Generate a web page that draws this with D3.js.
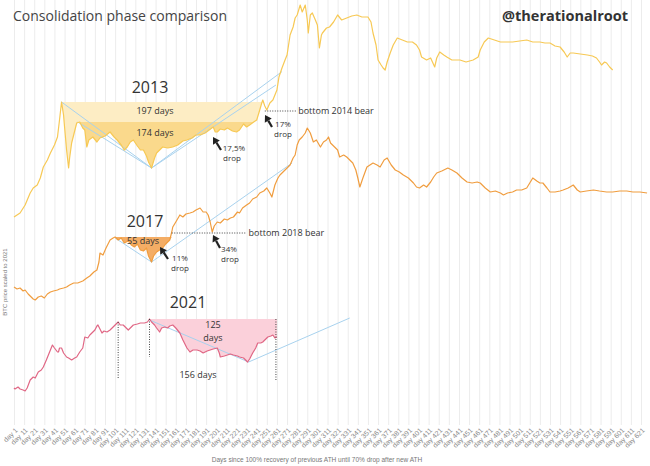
<!DOCTYPE html>
<html><head><meta charset="utf-8">
<script src="https://cdn.jsdelivr.net/npm/d3@7"></script>
<style>body{margin:0;background:#fff} svg{display:block}</style>
</head><body><svg id="c" width="650" height="466"></svg>
<script>
// ---------- DATA ----------
const tickDays = d3.range(1, 622, 10);

// [day, scaled price]
const btc2013 = [[1,50.75],[7,51.75],[12,53.75],[17,56.75],[20,58],[24,58.75],[27,60.5],[30,63.25],[34,65],[37,66.75],[41,68.75],[44,70.75],[46,75],[48,79.5],[50,76.25],[51,73.25],[53,67.5],[55,63],[56,65.5],[58,69.25],[60,71.25],[63,74.25],[66,74.5],[69,73],[71,72.5],[73,68.25],[75,70],[79,70.75],[83,69.5],[86,70.5],[91,71],[96,72],[100,70.75],[103,70],[107,68.75],[110,67.5],[113,68.25],[116,69.5],[119,70],[123,68.5],[126,67.5],[129,67.5],[132,66],[134,64.5],[137,63],[140,65.5],[142,66.75],[145,67.5],[148,68.25],[153,68],[158,68.25],[163,68.75],[168,69.75],[172,70],[177,70.5],[181,71.25],[185,71.25],[190,71.75],[194,72.5],[198,73.25],[200,72],[202,72],[205,72.75],[209,72.5],[212,73],[217,72.25],[221,72],[224,72.5],[228,74],[231,73.25],[234,73.75],[238,74.5],[241,75],[244,77.5],[246,79.25],[247,80],[249,78.5],[251,77.5],[254,79.25],[257,80],[261,82.5],[263,85.75],[266,88],[269,90],[271,91.25],[274,96.25],[277,98.25],[279,100.5],[281,101.25],[284,103.75],[286,102],[289,103.75],[291,100],[292,96.75],[294,101.25],[296,101.75],[299,100],[301,98.75],[303,93],[305,96.25],[306,96.75],[310,98],[313,98.25],[317,99.5],[321,101.25],[325,100],[330,100.5],[335,101],[340,101.25],[345,100.75],[351,100.75],[354,99.5],[356,96.75],[359,93.75],[361,90],[364,88.75],[366,88],[368,87.5],[370,89.5],[373,91.75],[376,93.75],[380,95.5],[385,95],[390,94.5],[395,94.5],[399,93.75],[402,92.5],[404,90.75],[409,90],[413,90.5],[417,88.25],[419,90.5],[422,92],[426,91.25],[429,90.75],[434,90],[442,90],[448,89.5],[455,90],[460,90.75],[462,92.5],[466,94.5],[470,95.5],[476,95],[482,94.5],[487,94.5],[494,94.5],[501,94.75],[508,95],[514,94.5],[521,94.5],[526,94.25],[531,94.25],[536,93.5],[541,93.25],[545,92],[548,90.75],[551,91.75],[554,91.75],[561,91.5],[568,91.25],[573,91],[577,90.5],[580,89.5],[582,88.75],[585,89.5],[587,89.25],[590,88.25],[593,87.5]];

const btc2017 = [[1,33.25],[4,32.75],[7,33],[10,32.25],[12,32.5],[15,31.5],[17,31],[20,30.25],[22,30],[25,30.75],[28,31],[31,30.5],[34,31.5],[37,32],[40,32.25],[44,32.5],[46,32.75],[50,33],[53,33.25],[56,33.75],[60,34.25],[64,34.25],[69,34.75],[73,35.5],[76,36],[80,37],[83,37.5],[85,39.5],[86,41.75],[89,41.25],[92,43],[96,45],[99,45.5],[101,45.75],[104,45],[107,45.5],[110,44.25],[114,44.75],[117,43.75],[120,43.25],[123,44],[126,42.5],[129,42.25],[132,43],[134,41],[137,39.5],[139,41],[142,42],[145,42.5],[148,43],[151,44],[155,45],[157,47],[158,48.25],[161,49.5],[165,51.25],[168,50.75],[171,51.5],[175,51.75],[178,52],[181,52.5],[185,53],[188,52],[191,52],[193,51.25],[195,49.5],[197,47],[199,48.5],[202,49.5],[205,49.25],[209,50.25],[212,50],[215,50.5],[218,50.75],[222,52],[224,51.75],[227,53],[231,53.75],[234,54.25],[237,55.25],[241,55.75],[244,56.75],[248,57.25],[251,58],[254,56.75],[256,55.75],[259,58.75],[262,60.5],[264,61.25],[267,62],[271,63],[274,63.75],[277,65.5],[279,66.25],[281,68.75],[283,70],[286,70.75],[289,71.75],[291,73],[294,71.75],[297,69.5],[300,70],[304,68.25],[307,69.5],[310,70],[312,70.75],[314,69.25],[318,68.25],[321,67.5],[323,65.75],[327,66.25],[330,65.75],[333,65],[336,64.25],[339,62.5],[341,60.5],[343,58.25],[346,60.5],[350,63.25],[353,63.75],[356,64.25],[360,63.75],[363,63.25],[367,65],[370,65.5],[374,63.75],[378,62.5],[382,62],[386,61.25],[391,60.5],[396,59.25],[399,58.25],[402,58],[406,58.75],[409,58.25],[413,59.5],[416,60.75],[419,61.75],[424,62.25],[430,63],[434,62.5],[439,61.75],[444,60.5],[449,59.5],[454,59.25],[459,59.5],[462,59.25],[467,58],[472,57],[477,57.25],[482,56.75],[485,56.25],[489,56.75],[494,57],[498,57.5],[503,57.5],[508,58],[511,59.25],[514,60.5],[518,59.75],[521,59.25],[524,59.25],[528,58],[531,57],[536,57],[541,57.25],[544,57.5],[549,58],[554,58.75],[558,57.5],[561,57],[567,57.25],[574,57.5],[580,57.25],[587,57],[593,57],[600,57.25],[607,57.25],[613,57],[620,57],[627,56.75]];

const btc2021 = [[1,8],[2,7.75],[5,8.25],[7,7.75],[10,7.5],[12,7.25],[14,8],[17,10],[20,10.75],[22,10.5],[25,12],[28,12.5],[30,13.25],[33,15],[35,16.25],[37,17.5],[39,18.75],[41,18],[44,17],[45,17],[46,18],[48,18],[50,16.75],[53,15.75],[55,15.5],[58,15],[61,15.5],[63,15.75],[66,17],[69,18],[71,20.75],[74,20.5],[76,21.25],[78,21.75],[81,22.5],[83,23.5],[84,23.75],[86,22.75],[88,21.75],[90,22.25],[93,22],[96,22.5],[99,23.25],[102,24],[104,24.5],[106,23.75],[109,23.75],[112,23],[114,22.5],[117,23.25],[119,23.75],[123,24],[126,24.25],[130,24.25],[133,24.5],[135,25.25],[137,24.5],[140,23.75],[142,23],[145,22],[147,23],[150,23.25],[153,23],[155,23.5],[158,23.75],[161,23],[165,21.75],[168,20],[171,18.5],[172,18],[175,17],[178,17.5],[182,17.5],[185,17.25],[188,16.75],[192,17.25],[195,17.5],[198,17.75],[202,18],[204,16.75],[205,15.75],[209,16],[212,16.25],[215,16.5],[218,16.25],[222,16],[224,15.75],[228,15.5],[230,15],[232,14.5],[234,15.25],[237,16.75],[240,18],[242,19.25],[245,19.25],[247,19.5],[250,20.25],[252,20.75],[255,21],[257,21.25],[259,20.5],[261,20.75]];

// consolidation phases: [first day, last day, level]
const phase2013Outer = [48, 247, 79.5];
const phase2013Inner = [63, 238, 74.5];
const phase2017 = [101, 157, 45.75];
const phase2021 = [135, 261, 25.25];

// trend lines (light blue)
const trend2013a = [[48,79.5],[137,63],[266,87.1]];
const trend2013b = [[64,74.5],[137,63],[260,83.75]];
const trend2017 = [[101,45.5],[137,39.5],[276,64.25]];
const trend2021 = [[135,25],[233,14.5],[333,25.5]];

// bear-market bottoms: [from day, to day, level, label]
const bottom2014 = [249, 280, 77.25, "bottom 2014 bear"];
const bottom2018 = [157, 231, 46.75, "bottom 2018 bear"];

// 2021 markers: [day, top value, bottom value]
const markers2021 = [[104, 24.5, 10.5], [135, 25.25, 15.75], [260, 25.25, 10]];

// ---------- CHART ----------
const svg = d3.select("#c");
const FONT = "'Open Sans', 'Noto Sans', sans-serif";
const x = d3.scaleLinear().domain([1, 621]).range([14, 641]);
const y = d3.scaleLinear().domain([0, 105]).range([420, 0]);

// grid + ticks
const ax = svg.append("g").attr("transform", "translate(0,425)")
  .call(d3.axisBottom(x).tickValues(tickDays).tickSize(-425).tickFormat(d => "day " + d));
ax.select(".domain").remove();
ax.selectAll(".tick line").attr("stroke", "#ececec").attr("stroke-width", 1);
ax.selectAll(".tick text")
  .attr("font-family", "'Liberation Sans', Arial, sans-serif").attr("font-size", 7)
  .attr("fill", "#8a8a8a").attr("text-anchor", "end")
  .attr("x", 0).attr("y", 0).attr("dy", "0.35em")
  .attr("transform", "translate(2,4) rotate(-45)");

const line = d3.line().x(d => x(d[0])).y(d => y(d[1]));
function fillArea(data, ph, color) {
  const pts = data.filter(d => d[0] >= ph[0] && d[0] <= ph[1]);
  const area = d3.area().x(d => x(d[0])).y0(y(ph[2])).y1(d => y(Math.min(d[1], ph[2])));
  svg.append("path").datum(pts).attr("d", area).attr("fill", color);
}
fillArea(btc2013, phase2013Outer, "#fdedc4");
fillArea(btc2013, phase2013Inner, "#fad98c");
fillArea(btc2017, phase2017, "#f4ad65");
fillArea(btc2021, phase2021, "#fbd0da");

// trend lines
[trend2013a, trend2013b, trend2017, trend2021].forEach(t => {
  svg.append("path").datum(t).attr("d", line).attr("fill", "none")
    .attr("stroke", "#a8d2ee").attr("stroke-width", 1);
});

// series
[[btc2013, "#f7c955"], [btc2017, "#f09d3f"], [btc2021, "#e06785"]].forEach(([s, c]) => {
  svg.append("path").datum(s).attr("d", line).attr("fill", "none")
    .attr("stroke", c).attr("stroke-width", 1.2).attr("stroke-linejoin", "round");
});

// dotted bottoms
[bottom2014, bottom2018].forEach(b => {
  svg.append("line").attr("x1", x(b[0])).attr("x2", x(b[1])).attr("y1", y(b[2])).attr("y2", y(b[2]))
    .attr("stroke", "#444").attr("stroke-width", 1).attr("stroke-dasharray", "1,1.5");
  svg.append("text").attr("x", x(b[1]) + 2).attr("y", y(b[2]) + 3.2)
    .attr("font-family", FONT).attr("font-size", 9).attr("fill", "#333").text(b[3]);
});
markers2021.forEach(m => {
  svg.append("line").attr("x1", x(m[0])).attr("x2", x(m[0])).attr("y1", y(m[1])).attr("y2", y(m[2]))
    .attr("stroke", "#444").attr("stroke-width", 1).attr("stroke-dasharray", "1,1.5");
});

// texts
function txt(t, px, py, size, opts = {}) {
  svg.append("text").attr("x", px).attr("y", py).attr("font-family", FONT)
    .attr("font-size", size).attr("fill", opts.fill || "#333")
    .attr("font-weight", opts.weight || "normal")
    .attr("text-anchor", opts.anchor || "middle").text(t);
}
txt("Consolidation phase comparison", 13, 21, 14, {anchor: "start", fill: "#444"});
txt("@therationalroot", 628, 21, 14.5, {anchor: "end", weight: "bold", fill: "#333"});
txt("2013", 150, 93, 16);
txt("197 days", 155, 114, 9);
txt("174 days", 155, 136, 9);
txt("17,5%", 234, 151, 8);
txt("drop", 232, 161, 8);
txt("17%", 283, 127, 8);
txt("drop", 283, 137, 8);
txt("2017", 145, 227, 16);
txt("55 days", 143, 244, 9);
txt("11%", 180, 261, 8);
txt("drop", 180, 271, 8);
txt("34%", 229, 252, 8);
txt("drop", 230, 262, 8);
txt("2021", 188, 308, 16);
txt("125", 213, 328, 9);
txt("days", 213, 341, 9);
txt("156 days", 198, 378, 9);

// axis titles
svg.append("text").attr("x", 317).attr("y", 462).attr("text-anchor", "middle")
  .attr("font-family", "'Liberation Sans', Arial, sans-serif").attr("font-size", 6.5)
  .attr("fill", "#777").text("Days since 100% recovery of previous ATH until 70% drop after new ATH");
svg.append("text").attr("transform", "translate(7,282) rotate(-90)").attr("text-anchor", "middle")
  .attr("font-family", "'Liberation Sans', Arial, sans-serif").attr("font-size", 6)
  .attr("fill", "#777").text("BTC price scaled to 2021");

// arrows [tail, tip]
const arrows = [[[221,150],[213,137]], [[272,127],[265,115]], [[168,259],[160,247]], [[220,248],[213,235]]];
arrows.forEach(([a, b]) => {
  const dx = b[0] - a[0], dy = b[1] - a[1], L = Math.hypot(dx, dy);
  const ux = dx / L, uy = dy / L, hl = 6.5, hw = 4;
  const bx = b[0] - ux * hl, by = b[1] - uy * hl;
  svg.append("line").attr("x1", a[0]).attr("y1", a[1]).attr("x2", bx).attr("y2", by)
    .attr("stroke", "#222").attr("stroke-width", 2.2);
  svg.append("path").attr("d", `M${b[0]},${b[1]}L${bx - uy * hw},${by + ux * hw}L${bx + uy * hw},${by - ux * hw}Z`)
    .attr("fill", "#222");
});
</script></body></html>
